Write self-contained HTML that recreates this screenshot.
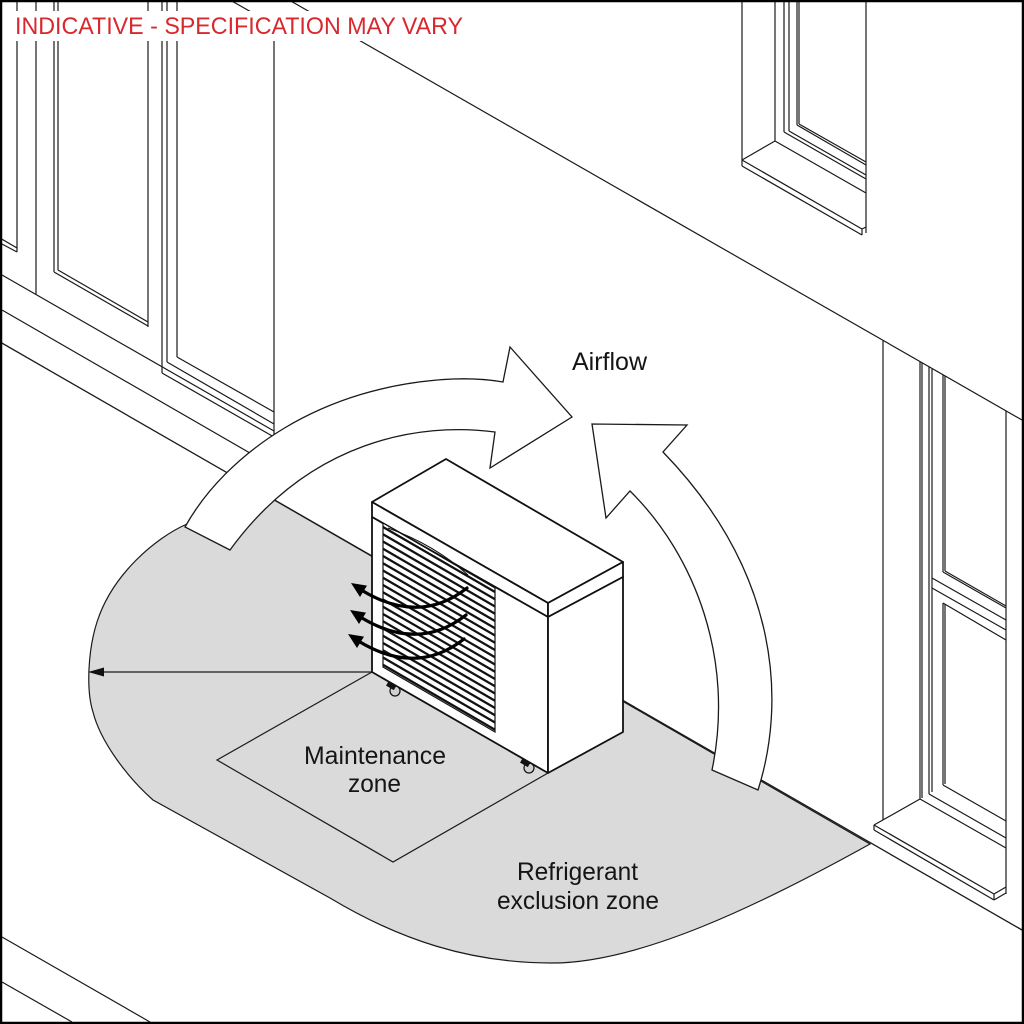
<!DOCTYPE html>
<html>
<head>
<meta charset="utf-8">
<style>
html,body{margin:0;padding:0;background:#fff;}
svg{display:block;}
</style>
</head>
<body>
<svg xmlns="http://www.w3.org/2000/svg" width="1024" height="1024" viewBox="0 0 1024 1024">
<rect x="0" y="0" width="1024" height="1024" fill="#fff"/>

<!-- Building linework -->
<g fill="none" stroke="#1a1a1a" stroke-width="1.2">
<path d="M17,0V252 M0,238L17,248 M0,243L17,252
M36,0V294
M54,0V272 M58,0V270 M54,272L148,326 M58,270L148,322
M148,0V327
M162,0V373 M167,0V362 M177,0V357
M2,275L274,431
M177,357L274,412 M167,362L274,424 M162,373L274,437
M274,25V437
M230,0L274,25
M2,310L262,460
M2,982L72,1022 M2,937L150,1022"/>
<path d="M289,0L1022,420"/>
<!-- upper right window -->
<path d="M742,0V166 M775,0V141 M784,0V132 M789,0V131 M797,0V125 M799,0V124 M866,0V233
M784,132L866,179 M789,131L866,175 M797,125L866,165 M799,124L866,162 M775,141L866,193
M742,160L775,141 M742,160L862,229 M742,166L862,235 M742,160V166 M862,229V235 M862,229L866,227"/>
<!-- right window -->
<path d="M883,341V820 M920,362V799 M922,363V798 M929,367V794 M932,369V792
M943,375V572 M945,376V571 M943,603V785 M945,604V784 M1006,411V894
M943,572L1006,608 M945,571L1006,606 M932,578L1006,620 M932,588L1006,630 M943,603L1006,640
M943,785L1006,821 M929,794L1006,838 M920,799L1006,848
M874,825L920,799 M874,825L994,894 M874,830L994,900 M874,825V830 M994,894V900 M994,894L1006,887 M994,900L1006,893"/>
</g>

<!-- Refrigerant exclusion zone -->
<path d="M250,486 C215,500 195,514 187,524 C155,538 112,575 97,622 C88,650 86,690 93,712 C100,740 125,775 153,800 L330,898 C400,940 470,963 552,963 C640,963 760,905 870,844 Z" fill="#dadada" stroke="#1a1a1a" stroke-width="1.2"/>

<!-- Maintenance zone -->
<path d="M372,672 L217,760 L393,862 L548,773 Z" fill="#dadada" stroke="#1a1a1a" stroke-width="1.2"/>

<!-- radius arrow -->
<path d="M372,672 H100" stroke="#1a1a1a" stroke-width="1.3" fill="none"/>
<polygon points="88,672 104,667.5 104,676.5" fill="#111"/>

<!-- wall base line -->
<path d="M0,342 L1022,930" stroke="#1a1a1a" stroke-width="1.3" fill="none"/>

<!-- Heat pump unit -->
<g stroke="#111" stroke-width="1.8" fill="#fff" stroke-linejoin="round">
<polygon points="372,502 446,459 623,562 548,603"/>
<polygon points="372,502 548,603 548,617 372,517"/>
<polygon points="548,603 623,562 623,577 548,617"/>
<polygon points="372,517 548,617 548,773 372,672"/>
<polygon points="548,617 623,577 623,732 548,773"/>
</g>
<!-- grille -->
<polygon points="383,523 495,588 495,732 383,667" fill="#fff" stroke="#111" stroke-width="1.2"/>
<path fill="none" stroke="#111" stroke-width="2.2" d="
M383,527l112,65 M383,534.25l112,65 M383,541.5l112,65 M383,548.75l112,65
M383,556l112,65 M383,563.25l112,65 M383,570.5l112,65 M383,577.75l112,65
M383,585l112,65 M383,592.25l112,65 M383,599.5l112,65 M383,606.75l112,65
M383,614l112,65 M383,621.25l112,65 M383,628.5l112,65 M383,635.75l112,65
M383,643l112,65 M383,650.25l112,65 M383,657.5l112,65 M383,664.75l112,65"/>
<path d="M388,528 Q435,545 468,575" fill="none" stroke="#111" stroke-width="1"/>

<!-- feet -->
<circle cx="395" cy="691" r="5" fill="#d0d0d0" stroke="#111" stroke-width="1.2"/>
<rect x="387" y="683" width="9" height="5" fill="#111" transform="rotate(30 391 685)"/>
<circle cx="529" cy="768" r="5" fill="#d0d0d0" stroke="#111" stroke-width="1.2"/>
<rect x="521" y="760" width="9" height="5" fill="#111" transform="rotate(30 525 762)"/>

<!-- black airflow arrows out of unit -->
<g fill="none" stroke="#000" stroke-width="3.2" stroke-linecap="round">
<path d="M467,588 Q420,625 363,591"/>
<path d="M466,615 Q419,652 362,618"/>
<path d="M464,639 Q417,676 360,642"/>
</g>
<g fill="#000">
<polygon points="351,583 367,585.6 360,597"/>
<polygon points="350,610 366,612.6 359,624"/>
<polygon points="348,634 364,636.6 357,648"/>
</g>

<!-- Big airflow arrows -->
<g fill="#fff" stroke="#1a1a1a" stroke-width="1.3" stroke-linejoin="miter">
<path d="M185,527 C225,455 320,385 453,379 Q480,378 503,382 L510,347 L572,417 L490,468 L495,432 C420,422 310,440 230,550 Z"/>
<path d="M712,770 L758,790 C785,705 782,575 663,452 L687,425 L592,424 L606,518 L630,491 C695,555 735,660 712,770 Z"/>
</g>

<!-- Labels -->
<g font-family="'Liberation Sans', Arial, sans-serif" font-size="25" fill="#151515">
<text x="572" y="370" textLength="75" lengthAdjust="spacingAndGlyphs">Airflow</text>
<text x="304" y="764" textLength="142" lengthAdjust="spacingAndGlyphs">Maintenance</text>
<text x="348" y="792" textLength="53" lengthAdjust="spacingAndGlyphs">zone</text>
<text x="517" y="880" textLength="121" lengthAdjust="spacingAndGlyphs">Refrigerant</text>
<text x="497" y="909" textLength="162" lengthAdjust="spacingAndGlyphs">exclusion zone</text>
</g>

<!-- Title -->
<rect x="0" y="11" width="476" height="30" fill="#fff"/>
<text x="15" y="34" font-family="'Liberation Sans', Arial, sans-serif" font-size="24" fill="#d8282e" textLength="448" lengthAdjust="spacingAndGlyphs">INDICATIVE - SPECIFICATION MAY VARY</text>

<!-- Border -->
<rect x="1" y="1" width="1022" height="1022" fill="none" stroke="#000" stroke-width="2.5"/>
</svg>
</body>
</html>
